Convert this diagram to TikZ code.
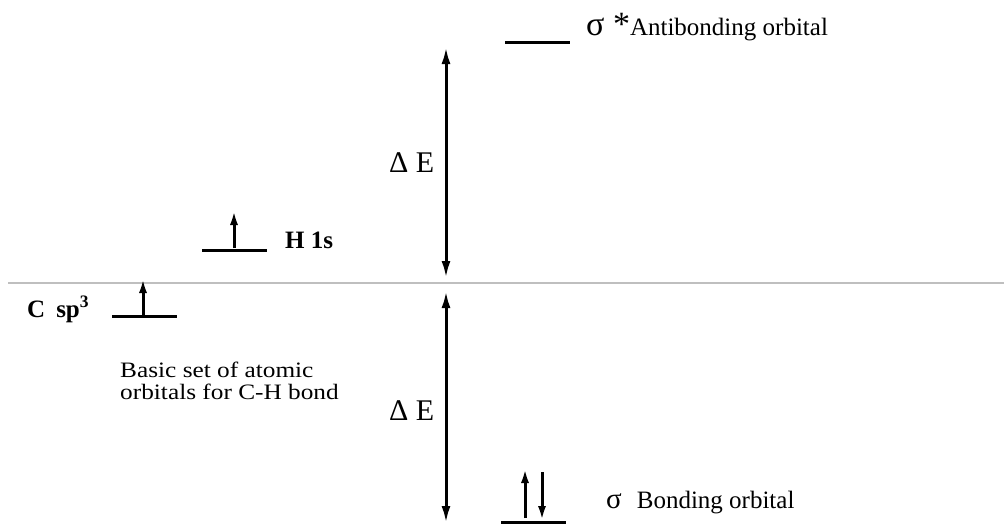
\documentclass[tikz,border=0pt]{standalone}
\usepackage{fontspec}
\setmainfont{Liberation Serif}
\usetikzlibrary{arrows.meta}
\begin{document}
\begin{tikzpicture}[x=1pt,y=-1pt,
    level/.style={line width=3pt},
    spin/.style={line width=3pt,-{Latex[length=15pt,width=8pt]}},
    gap/.style={line width=3pt,{Latex[length=17pt,width=9pt]}-{Latex[length=17pt,width=9pt]}},
    lbl/.style={inner sep=0pt,anchor=base west,font=\fontsize{25}{25}\selectfont}]
    \useasboundingbox (0,0) rectangle (1004,523);
    \draw[black!25, line width=1.5pt] (8,283) -- (1004,283);
    % levels
    \coordinate (asl) at (505,42);  \coordinate (asr) at (570,42);
    \coordinate (hl) at (202,250);  \coordinate (hr) at (267,250);
    \coordinate (cl) at (112,316);  \coordinate (cr) at (177,316);
    \coordinate (bl) at (501,522);  \coordinate (br) at (566,522);
    \draw[level] (asl) -- (asr);
    \draw[level] (hl) -- (hr);
    \draw[level] (cl) -- (cr);
    \draw[level] (bl) -- (br);
    % electrons
    \coordinate (he) at (234,210);
    \coordinate (ce) at (143,278);
    \coordinate (bu) at (525,468);
    \coordinate (bd) at (542,521);
    \draw[spin] (234,248) -- (he);
    \draw[spin] (143,316) -- (ce);
    \draw[spin] (525,518) -- (bu);
    \draw[spin] (542,472) -- (bd);
    % energy gaps
    \coordinate (gtop) at (446,47);  \coordinate (gup) at (446,278);
    \coordinate (glow) at (446,291); \coordinate (gbot) at (446,523);
    \draw[gap] (gtop) -- (gup);
    \draw[gap] (glow) -- (gbot);
    \node[lbl,font=\fontsize{30}{30}\selectfont] (de1) at (389,172) {Δ E};
    \node[lbl,font=\fontsize{30}{30}\selectfont] (de2) at (389,420) {Δ E};
    % labels
    \node[lbl] (sstar) at (586,35) {{\fontsize{34}{34}\selectfont σ *}Antibonding orbital};
    \node[lbl] (sbond) at (606,508) {{\fontsize{29}{29}\selectfont σ}\hspace{15pt}Bonding orbital};
    \node[lbl,font=\fontsize{25}{25}\selectfont\bfseries] (h1s) at (285,248) {H 1s};
    \node[lbl,font=\fontsize{25}{25}\selectfont\bfseries] (csp) at (27,317) {C\hspace{11pt}sp\textsuperscript{3}};
    \node[inner sep=0pt,anchor=north west,align=left,font=\fontsize{22}{22}\selectfont,
        xscale=1.15,transform shape] (basis) at (120,362)
        {Basic set of atomic\\orbitals for C-H bond};
\end{tikzpicture}
\end{document}
